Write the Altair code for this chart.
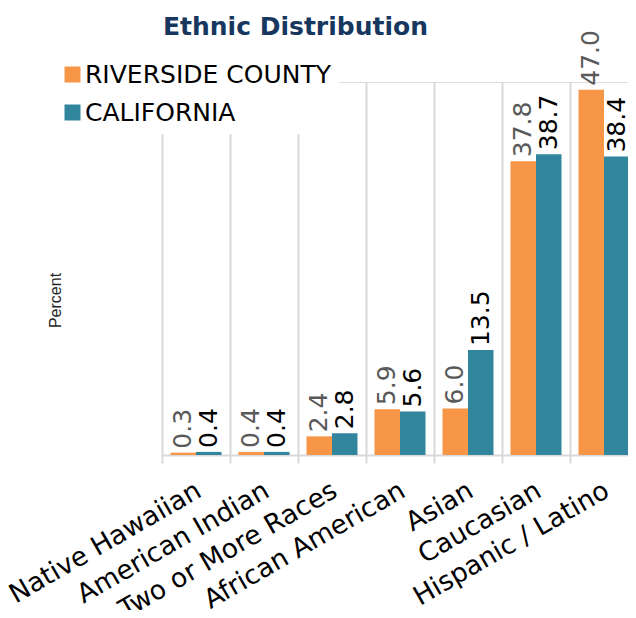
import altair as alt
import pandas as pd

categories = ["Native Hawaiian", "American Indian", "Two or More Races",
              "African American", "Asian", "Caucasian", "Hispanic / Latino"]
riverside = [0.3, 0.4, 2.4, 5.9, 6.0, 37.8, 47.0]
california = [0.4, 0.4, 2.8, 5.6, 13.5, 38.7, 38.4]
series_names = ["RIVERSIDE COUNTY", "CALIFORNIA"]
series_colors = ["#F79646", "#31859C"]
label_colors = ["#595959", "#000000"]

rows = []
for c, r, ca in zip(categories, riverside, california):
    rows.append({"Ethnicity": c, "Series": series_names[0], "Percent": r})
    rows.append({"Ethnicity": c, "Series": series_names[1], "Percent": ca})
df = pd.DataFrame(rows)

FONT = "DejaVu Sans"
GRID = "#D9D9D9"

x_enc = alt.X(
    "Ethnicity:N", sort=categories,
    scale=alt.Scale(paddingInner=0, paddingOuter=0, range=[0, 476]),
    axis=alt.Axis(
        title=None, labelAngle=-30, labelAlign="right", labelBaseline="top",
        labelFontSize=26.5, labelFont=FONT, labelColor="#000000", labelPadding=14,
        labelOffset=-4, labelLimit=400, labelOverlap=False,
        tickBand="extent", ticks=True, tickSize=8, tickColor=GRID, tickWidth=2,
        grid=True, gridColor=GRID, gridWidth=2,
        domainColor=GRID, domainWidth=2,
    ),
)
xoff_enc = alt.XOffset("Series:N", sort=series_names,
                       scale=alt.Scale(domain=series_names, paddingInner=0,
                                       paddingOuter=0.333))
y_enc = alt.Y(
    "Percent:Q", scale=alt.Scale(domain=[0, 48], nice=False),
    axis=alt.Axis(
        title="Percent", labels=False, ticks=False, domain=False, grid=False,
        titleFont="Liberation Sans", titleFontSize=16, titleFontWeight="normal",
        titleColor="#262626", titleX=-102, titleY=218, titleAngle=270,
        titleBaseline="alphabetic", titleAlign="center",
    ),
)

base = alt.Chart(df)

bars = base.mark_bar().encode(
    x=x_enc, xOffset=xoff_enc, y=y_enc,
    color=alt.Color(
        "Series:N", sort=series_names,
        scale=alt.Scale(domain=series_names, range=series_colors),
        legend=alt.Legend(
            title=None, orient="none", legendX=-110, legendY=-28, padding=8,
            fillColor="white", labelFontSize=25, labelFont=FONT,
            labelColor="#000000", labelLimit=400, symbolType="square",
            symbolSize=256, symbolStrokeWidth=0, rowPadding=12, labelOffset=0,
        ),
    ),
)

texts = []
for name, col in zip(series_names, label_colors):
    texts.append(
        base.transform_filter(alt.datum.Series == name)
        .mark_text(angle=270, align="left", baseline="middle", dx=4,
                   fontSize=25, font=FONT, color=col)
        .encode(x=x_enc, xOffset=xoff_enc, y=y_enc,
                text=alt.Text("Percent:Q", format=".1f"))
    )

chart = alt.layer(bars, *texts).properties(
    width=466, height=373,
    autosize=alt.AutoSizeParams(type="none"),
    padding={"left": 154, "top": 74, "right": 0, "bottom": 155},
    title=alt.TitleParams(
        "Ethnic Distribution", anchor="start", frame="group", dx=1, offset=-10,
        fontSize=25, font=FONT, fontWeight="bold", color="#17375E",
    ),
).configure_view(stroke=None).configure(background="white")

chart.save("out.html", embed_options={"renderer": "svg", "actions": False})
